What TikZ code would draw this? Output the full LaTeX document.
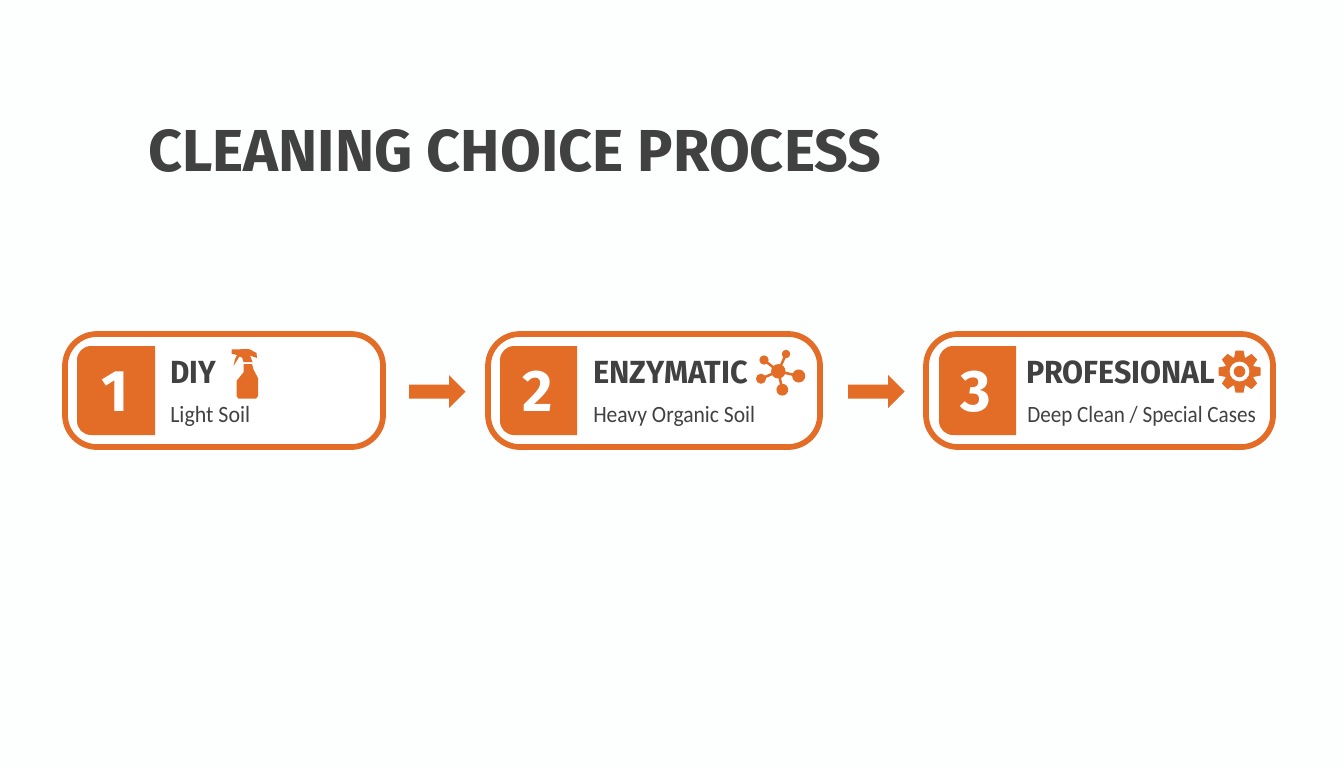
\documentclass[tikz,border=0pt]{standalone}
\usepackage{fontspec}
\setmainfont{Fira Sans}
\newfontfamily\subfont{Carlito}
\definecolor{org}{HTML}{E36C26}
\definecolor{ink}{HTML}{414141}
\definecolor{paper}{HTML}{FDFEFE}
\tikzset{
 x=0.75pt,y=-0.75pt,
 card/.style={draw=org,line width=4.3pt,rounded corners=24pt,fill=white},
 numbox/.style={fill=org},
 num/.style={text=white,font=\fontsize{44}{44}\selectfont\bfseries,inner sep=0,anchor=base},
 head/.style={text=ink,font=\fontsize{24}{24}\selectfont\fontseries{sb}\selectfont,inner sep=0,anchor=base west},
 sub/.style={text=ink,font=\subfont\fontsize{17.5}{17.5}\selectfont,inner sep=0,anchor=base west},
 title/.style={text=ink,font=\fontsize{44.4}{44.4}\selectfont\bfseries,inner sep=0,anchor=base west},
 arrowshape/.style={fill=org},
}
\begin{document}
\begin{tikzpicture}
\useasboundingbox (0,0) rectangle (1344,768);
\fill[paper] (0,0) rectangle (1344,768);
\node[title] (t) at (148,171) {CLEANING CHOICE PROCESS};
% cards
\draw[card] (65,334) rectangle (383,447);
\draw[card] (488,334) rectangle (820,447);
\draw[card] (926,334) rectangle (1273,447);
\foreach \a/\b in {77/155,500/577,939/1016}{
 \fill[numbox] (\b,346) -- (\a+14,346) arc[start angle=90,end angle=180,radius=10.5pt] -- (\a,421) arc[start angle=180,end angle=270,radius=10.5pt] -- (\b,435) -- cycle;
}
\node[num] (n1) at (115,411) {1};
\node[num] (n2) at (538,411) {2};
\node[num] (n3) at (976,411) {3};
\node[head] (h1) at (170,383) {\scalebox{.93}[1]{DIY}};
\node[head] (h2) at (593,383) {\scalebox{.96}[1]{ENZYMATIC}};
\node[head] (h3) at (1026,383) {\scalebox{.95}[1]{PROFESIONAL}};
\node[sub] (s1) at (170,422) {\scalebox{.94}[1]{Light Soil}};
\node[sub] (s2) at (593,422) {\scalebox{.925}[1]{Heavy Organic Soil}};
\node[sub] (s3) at (1027,422) {\scalebox{.905}[1]{Deep Clean / Special Cases}};
% arrows
\foreach \o in {0,439}{
 \fill[arrowshape] (409+\o,384.5) -- (449+\o,384.5) -- (449+\o,375) -- (465.5+\o,391.5) -- (449+\o,408) -- (449+\o,398.5) -- (409+\o,398.5) -- cycle;
}
% spray bottle
\fill[org] (231.5,349.5) -- (249,349) -- (256.5,353) -- (257,358) -- (250,355.5) -- (252.5,362) -- (243.5,362) -- (242,357.5) -- (239.5,356.5) -- (236,362) -- (233.5,366) -- (235,359) -- (237,355) -- (233,354) -- (231.5,354) -- cycle;
\fill[org] (243.7,364) -- (252,364) -- (253.7,370) -- (258,378) -- (258,396) -- (256,398.7) -- (238.5,398.7) -- (236.5,396) -- (236.5,381) -- (243.7,372) -- cycle;
% molecule
\draw[org,line width=1.9pt] (778.3,371.3) -- (764,360) (778.3,371.3) -- (786,354) (778.3,371.3) -- (798.7,376) (778.3,371.3) -- (761,378.7) (778.3,371.3) -- (782.3,389.7);
\fill[org] (778.3,371.3) circle[radius=5.4pt] (764,360) circle[radius=3.5pt] (786,354) circle[radius=3.2pt] (798.7,376) circle[radius=4.9pt] (761,378.7) circle[radius=3.8pt] (782.3,389.7) circle[radius=4.4pt];
% gear
\fill[org,even odd rule] (1239.5,371.5) circle[radius=11.2pt] (1239.5,371.5) circle[radius=7.5pt];
\fill[org] (1239.5,371.5) circle[radius=4.3pt];
\foreach \r in {0,45,...,315}{
 \fill[org,rotate around={\r:(1239.5,371.5)}] (1234,358) -- (1235.5,350.5) -- (1243.5,350.5) -- (1245,358) -- cycle;
}
\end{tikzpicture}
\end{document}
